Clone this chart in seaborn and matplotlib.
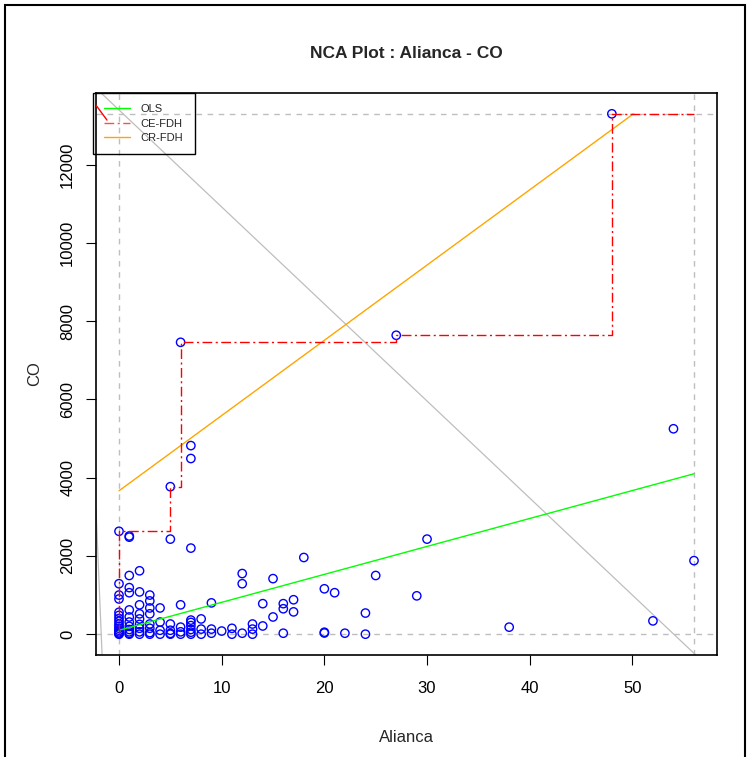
import numpy as np
import pandas as pd
import matplotlib
matplotlib.use("Agg")
import matplotlib.pyplot as plt
import seaborn as sns
from matplotlib.lines import Line2D
from matplotlib.patches import Rectangle

# ------------------------------------------------------------------
# Data
# ------------------------------------------------------------------
alianca = (
    [0] * 16 + [1] * 13 + [2] * 9 + [3] * 8 + [4] * 4 + [5] * 6 + [6] * 5 + [7] * 9
    + [8] * 3 + [9] * 3 + [10] + [11] * 2 + [12] * 3 + [13] * 3 + [14] * 2 + [15] * 2
    + [16] * 3 + [17] * 2 + [18] + [20] * 3 + [21] + [22] + [24] * 2 + [25] + [27]
    + [29] + [30] + [38] + [48] + [52] + [54] + [56]
)
co = (
    [2630, 1290, 1000, 900, 560, 480, 400, 330, 260, 200, 150, 100, 60, 30, 10, 0]
    + [2510, 2480, 1500, 1190, 1060, 620, 440, 310, 200, 120, 60, 20, 0]
    + [1620, 1080, 750, 520, 390, 250, 150, 60, 0]
    + [1000, 850, 670, 520, 260, 150, 40, 0]
    + [670, 310, 100, 0]
    + [3770, 2430, 260, 100, 20, 0]
    + [7460, 750, 180, 60, 0]
    + [4820, 4490, 2200, 360, 300, 220, 120, 50, 0]
    + [390, 130, 0]
    + [800, 130, 25]
    + [80]
    + [150, 0]
    + [1550, 1290, 25]
    + [260, 130, 0]
    + [780, 210]
    + [1420, 440]
    + [780, 650, 25]
    + [880, 570]
    + [1960]
    + [1160, 50, 30]
    + [1060]
    + [25]
    + [540, 0]
    + [1500]
    + [7640]
    + [980]
    + [2430]
    + [180]
    + [13300]
    + [340]
    + [5250]
    + [1880]
)

# ceilings / regression lines
ols_x = [0, 56]
ols_y = [100, 4100]
ce_fdh_x = [0, 0, 5, 5, 6, 6, 27, 27, 48, 48, 56]
ce_fdh_y = [0, 2630, 2630, 3770, 3770, 7460, 7460, 7640, 7640, 13300, 13300]
ce_fdh_edge_x = [-2.24, -1.17]
ce_fdh_edge_y = [13520, 13140]
cr_fdh_x = [0, 50.1]
cr_fdh_y = [3665, 13300]
grey_line_a = [(-1.85, 13858), (55.9, -464)]
grey_line_b = [(-2.24, 3200), (-1.7, -200)]

# scope
x_min, x_max = 0, 56
y_min, y_max = 0, 13300

df = pd.DataFrame({"Alianca": alianca, "CO": co})

# ------------------------------------------------------------------
# Plot
# ------------------------------------------------------------------
sns.set_style("white")
plt.rcParams["font.family"] = ["Liberation Sans", "DejaVu Sans"]

fig = plt.figure(figsize=(7.51, 7.57), dpi=100)
ax = fig.add_axes([96 / 751, 1 - 655 / 757, 621 / 751, 562 / 757])

# scope lines
for v in (x_min, x_max):
    ax.axvline(v, color="#BEBEBE", lw=1, ls=(0, (4, 4)), zorder=1)
for h in (y_min, y_max):
    ax.axhline(h, color="#BEBEBE", lw=1, ls=(0, (4, 4)), zorder=1)

ax.axline(*grey_line_a, color="#BEBEBE", lw=0.9, zorder=1)
ax.axline(*grey_line_b, color="#BEBEBE", lw=0.9, zorder=1)

sns.scatterplot(data=df, x="Alianca", y="CO", ax=ax, marker="o", s=36,
                facecolor="none", edgecolor="#0000FF", linewidth=1.0, zorder=3)

ax.plot(ols_x, ols_y, color="#00FF00", lw=1.0, zorder=4)
ax.plot(cr_fdh_x, cr_fdh_y, color="#FFA500", lw=1.0, zorder=4)
ax.plot(ce_fdh_x, ce_fdh_y, color="#FF0000", lw=1.0, ls=(0, (7, 2.5, 1.5, 2.5)), zorder=4)
ax.plot(ce_fdh_edge_x, ce_fdh_edge_y, color="#FF0000", lw=1.0, zorder=6)

ax.set_xlim(-2.24, 58.24)
ax.set_ylim(-532, 13832)
ax.set_xticks(range(0, 51, 10))
ax.set_yticks(range(0, 12001, 2000))
ax.tick_params(axis="both", direction="out", length=7, width=0.8, labelsize=12,
               bottom=True, left=True, colors="black", pad=8)
ax.tick_params(axis="x", pad=12)
for lab in ax.get_yticklabels():
    lab.set_rotation(90)
    lab.set_va("center")
for sp in ax.spines.values():
    sp.set_color("black")
    sp.set_linewidth(1.2)

ax.set_xlabel("Alianca", fontsize=12, labelpad=24)
ax.set_ylabel("CO", fontsize=12, labelpad=13)
ax.set_title("NCA Plot : Alianca - CO", fontsize=12.5, fontweight="bold", pad=25)

handles = [
    Line2D([], [], color="#00FF00", lw=1.0),
    Line2D([], [], color="#FF0000", lw=1.0, ls=(0, (7, 2.5, 1.5, 2.5)), alpha=0.7),
    Line2D([], [], color="#FFA500", lw=1.0),
]
leg = ax.legend(handles, ["OLS", "CE-FDH", "CR-FDH"], loc="upper left",
                bbox_to_anchor=(-3 / 621, 1.0), fontsize=8, frameon=True,
                fancybox=False, edgecolor="black",
                handlelength=2.3, handletextpad=1.0, borderpad=1.0,
                labelspacing=0.4, borderaxespad=0)
frame = leg.get_frame()
frame.set_alpha(None)
frame.set_facecolor((1, 1, 1, 0))
frame.set_edgecolor("black")
frame.set_linewidth(1.0)
leg.set_zorder(5)

# outer device frame
fig.patches.append(Rectangle((5 / 751, -0.02), 740 / 751, 1 - 5 / 757 + 0.02,
                             transform=fig.transFigure, fill=False,
                             edgecolor="black", lw=1.5))

fig.savefig("out.png", dpi=100)
